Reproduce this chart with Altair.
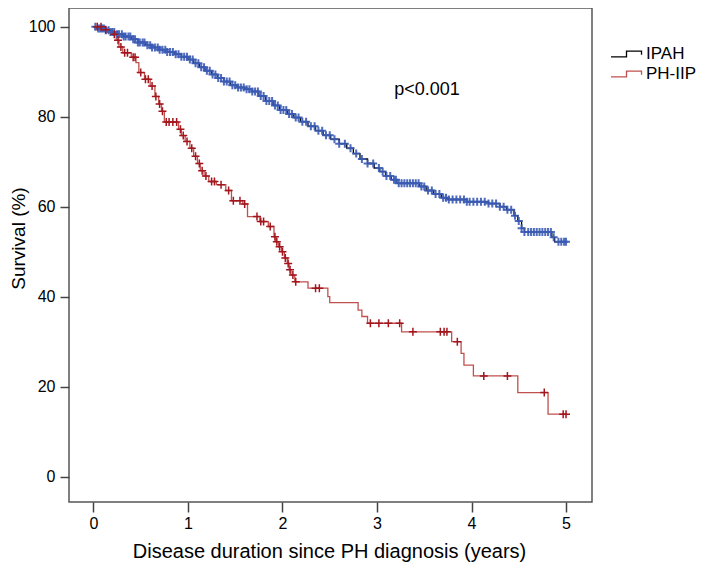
import altair as alt
import numpy as np
import pandas as pd

# ---------------- data ----------------
groups = ["IPAH", "PH-IIP"]

ipah_event_t = [0.00, 0.05, 0.12, 0.18, 0.25, 0.32, 0.40, 0.47, 0.55, 0.62, 0.70, 0.78,
                0.86, 0.93, 1.00, 1.06, 1.12, 1.18, 1.25, 1.31, 1.38, 1.45, 1.52, 1.60,
                1.68, 1.75, 1.82, 1.90, 1.97, 2.05, 2.12, 2.19, 2.27, 2.35, 2.43, 2.51,
                2.60, 2.68, 2.75, 2.82, 2.90, 2.97, 3.03, 3.09, 3.15, 3.21, 3.45, 3.52,
                3.60, 3.68, 3.75, 3.95, 4.18, 4.30, 4.37, 4.45, 4.49, 4.53, 4.56, 4.85,
                4.88]
ipah_event_s = [100.0, 99.6, 99.2, 98.8, 98.3, 97.8, 97.2, 96.5, 95.9, 95.4, 94.9, 94.4,
                93.9, 93.3, 92.7, 91.9, 91.0, 90.2, 89.4, 88.6, 87.8, 87.0, 86.5, 86.1,
                85.6, 84.6, 83.5, 82.5, 81.5, 80.6, 79.8, 78.9, 77.9, 76.9, 75.9, 75.0,
                74.0, 73.0, 71.8, 70.6, 69.6, 68.6, 67.8, 66.8, 66.0, 65.2, 64.5, 63.6,
                62.8, 62.0, 61.6, 61.1, 60.7, 60.0, 59.3, 58.0, 56.8, 55.2, 54.4, 53.2,
                52.2]
ipah_censor_t = [0.02, 0.05, 0.07, 0.09, 0.11, 0.13, 0.16, 0.18, 0.20, 0.22, 0.25, 0.27,
                 0.30, 0.32, 0.34, 0.37, 0.39, 0.42, 0.44, 0.47, 0.49, 0.52, 0.54, 0.57,
                 0.60, 0.62, 0.65, 0.68, 0.70, 0.73, 0.76, 0.78, 0.81, 0.84, 0.87, 0.90,
                 0.93, 0.96, 0.99, 1.02, 1.05, 1.08, 1.11, 1.14, 1.17, 1.20, 1.23, 1.26,
                 1.29, 1.32, 1.35, 1.38, 1.41, 1.44, 1.47, 1.50, 1.53, 1.56, 1.59, 1.62,
                 1.65, 1.68, 1.71, 1.74, 1.77, 1.80, 1.83, 1.86, 1.89, 1.92, 1.95, 1.98,
                 2.01, 2.04, 2.07, 2.10, 2.14, 2.17, 2.21, 2.25, 2.30, 2.34, 2.38, 2.42,
                 2.46, 2.50, 2.55, 2.60, 2.66, 2.72, 2.78, 2.84, 2.90, 2.96, 3.02, 3.06,
                 3.10, 3.14, 3.18, 3.20, 3.23, 3.26, 3.29, 3.32, 3.35, 3.38, 3.41, 3.44,
                 3.47, 3.50, 3.54, 3.58, 3.62, 3.66, 3.70, 3.73, 3.76, 3.80, 3.84, 3.88,
                 3.92, 3.95, 3.98, 4.02, 4.06, 4.10, 4.14, 4.18, 4.22, 4.26, 4.30, 4.34,
                 4.38, 4.42, 4.46, 4.50, 4.53, 4.56, 4.60, 4.63, 4.66, 4.69, 4.72, 4.75,
                 4.78, 4.81, 4.84, 4.87, 4.92, 4.95, 4.98, 5.00]

phiip_event_t = [0.00, 0.10, 0.20, 0.24, 0.27, 0.31, 0.40, 0.45, 0.48, 0.54, 0.60, 0.65,
                 0.69, 0.72, 0.75, 0.90, 0.93, 0.97, 1.02, 1.06, 1.10, 1.13, 1.17, 1.22,
                 1.30, 1.40, 1.46, 1.58, 1.63, 1.76, 1.85, 1.91, 1.93, 1.96, 1.99, 2.02,
                 2.05, 2.07, 2.09, 2.13, 2.27, 2.48, 2.50, 2.80, 2.84, 2.90, 3.26, 3.79,
                 3.89, 3.92, 4.02, 4.49, 4.81]
phiip_event_s = [100.0, 99.3, 98.3, 97.0, 95.5, 94.2, 93.2, 92.0, 89.8, 88.3, 86.8, 84.5,
                 82.8, 81.2, 78.8, 77.2, 75.8, 74.5, 73.0, 71.2, 69.6, 68.0, 66.8, 65.6,
                 64.9, 63.6, 61.3, 60.6, 57.8, 56.7, 55.6, 53.3, 52.2, 51.1, 50.0, 48.6,
                 47.4, 46.0, 44.8, 43.3, 41.9, 40.0, 38.7, 37.0, 35.6, 34.1, 32.2, 30.0,
                 27.4, 24.8, 22.4, 18.7, 13.9]
phiip_censor_t = [0.04, 0.08, 0.13, 0.22, 0.26, 0.29, 0.33, 0.36, 0.42, 0.44, 0.50, 0.55,
                  0.58, 0.62, 0.66, 0.70, 0.73, 0.77, 0.80, 0.84, 0.88, 0.92, 0.95, 0.99,
                  1.04, 1.08, 1.12, 1.15, 1.19, 1.25, 1.28, 1.35, 1.43, 1.48, 1.55, 1.60,
                  1.73, 1.77, 1.80, 1.87, 1.92, 1.94, 1.97, 2.00, 2.03, 2.06, 2.08, 2.11,
                  2.14, 2.35, 2.39, 2.93, 3.02, 3.12, 3.24, 3.38, 3.67, 3.71, 3.74, 3.85,
                  4.13, 4.38, 4.77, 4.97, 5.00]
end_time = 5.0

x_ticks = [0, 1, 2, 3, 4, 5]
y_ticks = [0, 20, 40, 60, 80, 100]
p_text = "p<0.001"
p_pos = (3.53, 85.9)

line_colors = ["#000000", "#c0504d"]
mark_colors = ["#3b5bb5", "#a3161e"]

# ---------------- build tables ----------------
def step_table(name, ts, ss):
    t = list(ts) + [end_time]
    s = list(ss) + [ss[-1]]
    return pd.DataFrame({"t": t, "s": s, "group": name})

def censor_table(name, ts, ss, ct):
    ts = np.array(ts)
    ss = np.array(ss)
    idx = np.searchsorted(ts, np.array(ct), side="right") - 1
    return pd.DataFrame({"t": ct, "s": ss[idx], "group": name})

lines_df = pd.concat([step_table("IPAH", ipah_event_t, ipah_event_s),
                      step_table("PH-IIP", phiip_event_t, phiip_event_s)])
cens_ipah = censor_table("IPAH", ipah_event_t, ipah_event_s, ipah_censor_t)
cens_phiip = censor_table("PH-IIP", phiip_event_t, phiip_event_s, phiip_censor_t)

FONT = "Liberation Sans"
xscale = alt.Scale(domain=[-0.259, 5.275], nice=False, zero=False)
yscale = alt.Scale(domain=[-5.62, 104.15], nice=False, zero=False)

cross = "M-1,0H1M0,-1V1"
step_sym = "M-1,0.18H-0.06V-0.18H0.85V0.05"

lines = alt.Chart(lines_df).mark_line(interpolate="step-after", strokeWidth=1.3).encode(
    x=alt.X("t:Q", scale=xscale,
            axis=alt.Axis(values=x_ticks, title="Disease duration since PH diagnosis (years)",
                          format="d", tickSize=10, labelPadding=3,
                          titleX=260, titleY=55, titleAlign="center",
                          titleBaseline="alphabetic", titleFontSize=20)),
    y=alt.Y("s:Q", scale=yscale,
            axis=alt.Axis(values=y_ticks, title="Survival (%)", format="d",
                          tickSize=9, labelPadding=5,
                          titleX=-41, titleY=230, titleAngle=270, titleAlign="center",
                          titleBaseline="bottom", titleFontSize=19)),
    color=alt.Color("group:N", scale=alt.Scale(domain=groups, range=line_colors),
                    legend=alt.Legend(title=None, orient="none", legendX=541, legendY=37,
                                      symbolType=step_sym, symbolSize=1089,
                                      symbolStrokeWidth=1.3, clipHeight=18, rowPadding=2,
                                      labelFontSize=17, labelFont=FONT, labelColor="black",
                                      labelOffset=1)),
    detail="group:N",
)

marks_ipah = alt.Chart(cens_ipah).mark_point(
    shape=cross, filled=False, size=64, strokeWidth=2, color=mark_colors[0], opacity=0.9
).encode(x=alt.X("t:Q", scale=xscale), y=alt.Y("s:Q", scale=yscale))

marks_phiip = alt.Chart(cens_phiip).mark_point(
    shape=cross, filled=False, size=64, strokeWidth=1.5, color=mark_colors[1], opacity=1
).encode(x=alt.X("t:Q", scale=xscale), y=alt.Y("s:Q", scale=yscale))

ptext = alt.Chart(pd.DataFrame({"t": [p_pos[0]], "s": [p_pos[1]], "label": [p_text]})).mark_text(
    font=FONT, fontSize=18, color="black", align="center", baseline="middle"
).encode(x=alt.X("t:Q", scale=xscale), y=alt.Y("s:Q", scale=yscale), text="label:N")

chart = alt.layer(lines, marks_ipah, marks_phiip, ptext).properties(
    width=523, height=494,
    background="white",
    autosize=alt.AutoSizeParams(type="none"),
    padding={"left": 61, "top": 0, "right": 104, "bottom": 60},
).configure_view(
    stroke="#555555", strokeWidth=1.5
).configure_axis(
    grid=False, domain=False, labelFont=FONT, titleFont=FONT, labelFontSize=16,
    labelColor="black", titleColor="black", titleFontWeight="normal",
    tickColor="#444444", tickWidth=1.5
)

chart.save("out.html", embed_options={"renderer": "svg", "actions": False})
